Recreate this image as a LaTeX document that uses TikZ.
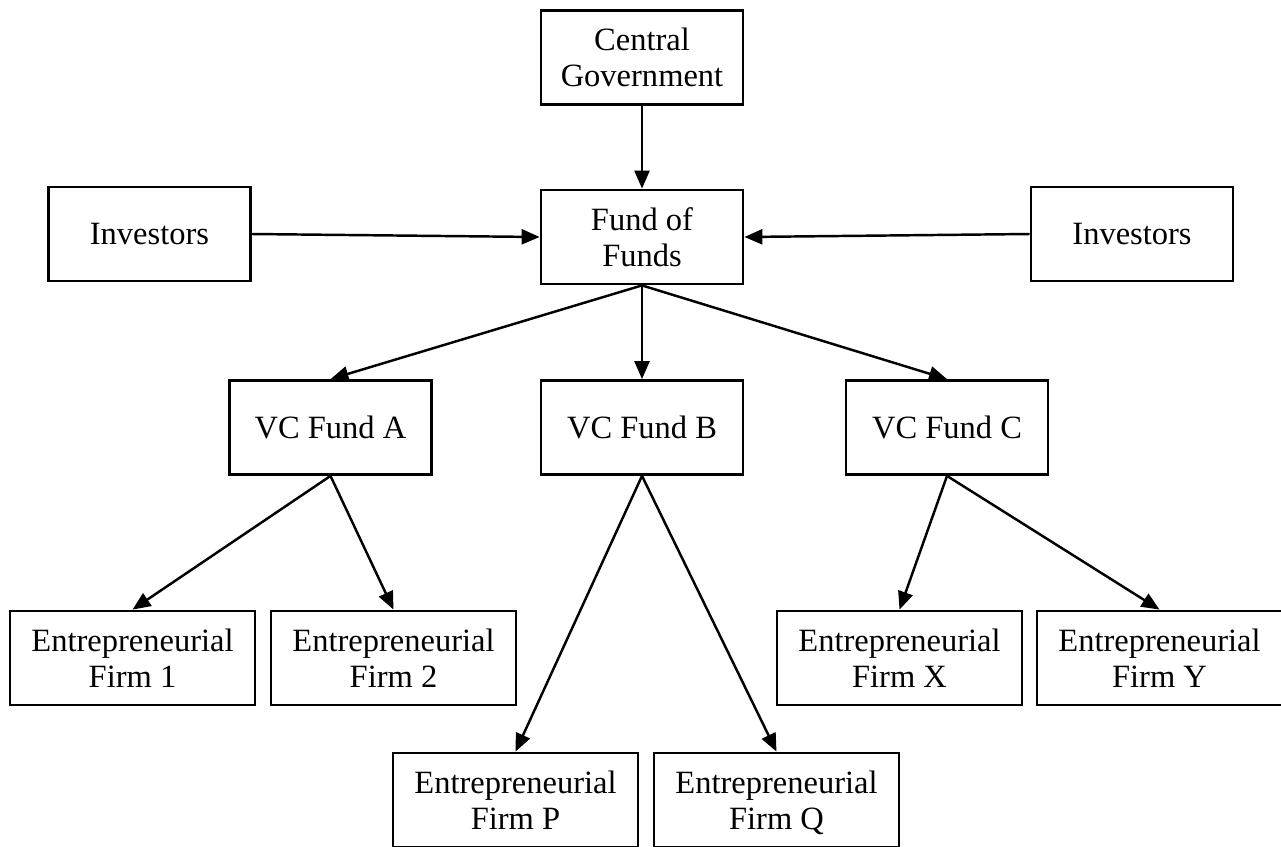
\documentclass[tikz,border=0pt]{standalone}
\usepackage{fontspec}
\setmainfont{Liberation Serif}
\usetikzlibrary{arrows.meta,positioning}

\begin{document}
\begin{tikzpicture}[x=0.02cm,y=-0.02cm]
  \tikzset{fundbox/.style={rectangle, draw, line width=1.6pt, minimum width=4.04cm,
      minimum height=1.88cm, align=center, inner sep=2pt, font=\fontsize{18.5}{20.5}\selectfont},
    firmbox/.style={fundbox, minimum width=4.9cm},
    flow/.style={-{Triangle[length=0.36cm,width=0.3cm]}, line width=1.4pt}}
  \useasboundingbox (0,0) rectangle (1281,846);
  % Government and fund of funds
  \node[fundbox] (gov)  at (642,57.5)  {Central\\Government};
  \node[fundbox] (invl) at (149.5,234) {Investors};
  \node[fundbox] (fof)  at (642,237)   {Fund of\\Funds};
  \node[fundbox] (invr) at (1132,234)  {Investors};
  % VC funds
  \node[fundbox] (vca) at (330.5,427.5) {VC Fund A};
  \node[fundbox] (vcb) at (642,427.5)   {VC Fund B};
  \node[fundbox] (vcc) at (947,427.5)   {VC Fund C};
  % Portfolio firms
  \node[firmbox] (f1) at (132.5,658)  {Entrepreneurial\\Firm 1};
  \node[firmbox] (f2) at (393.5,658)  {Entrepreneurial\\Firm 2};
  \node[firmbox] (fx) at (899.5,658)  {Entrepreneurial\\Firm X};
  \node[firmbox] (fy) at (1159.5,658) {Entrepreneurial\\Firm Y};
  \node[firmbox] (fp) at (515.5,800)  {Entrepreneurial\\Firm P};
  \node[firmbox] (fq) at (776.5,800)  {Entrepreneurial\\Firm \smash{Q}};
  % Money flows
  \draw[flow] (gov) -- (fof);
  \draw[flow] (invl.east) -- (fof.west);
  \draw[flow] (invr.west) -- (fof.east);
  \foreach \v in {vca,vcb,vcc}
    \draw[flow] (fof.south) -- (\v.north);
  \draw[flow] (vca.south) -- (f1.north);
  \draw[flow] (vca.south) -- (f2.north);
  \draw[flow] (vcb.south) -- (fp.north);
  \draw[flow] (vcb.south) -- (fq.north);
  \draw[flow] (vcc.south) -- (fx.north);
  \draw[flow] (vcc.south) -- (fy.north);
\end{tikzpicture}
\end{document}
